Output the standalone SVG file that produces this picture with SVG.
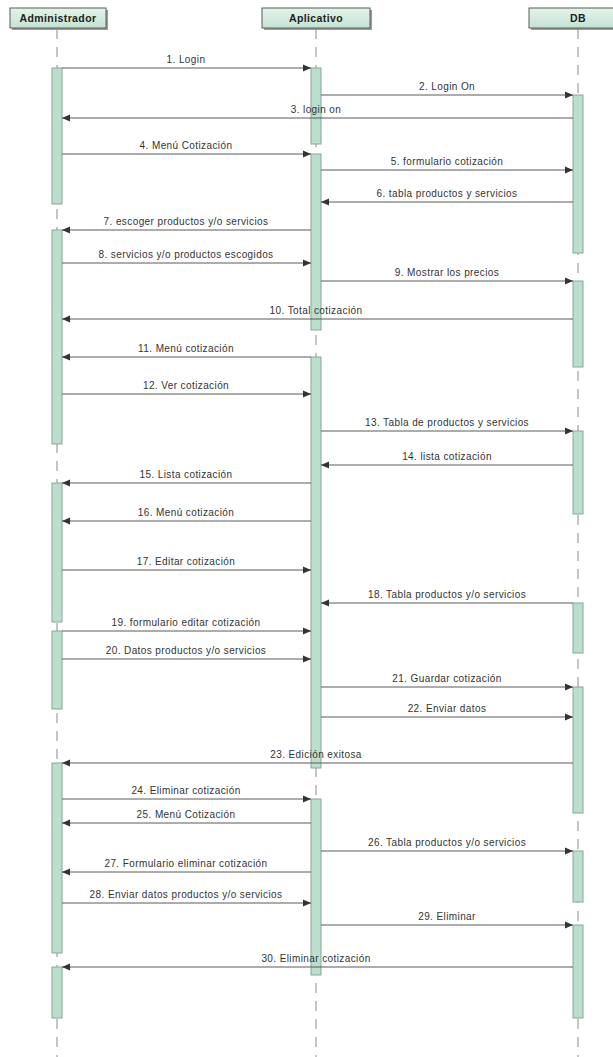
<svg xmlns="http://www.w3.org/2000/svg" width="613" height="1057" viewBox="0 0 613 1057">
<style>
.hdr{fill:url(#hg);stroke:#5a5a5a;stroke-width:1}
.shd{fill:#9a9a9a}
.ht{font-family:"Liberation Sans",Arial,sans-serif;font-size:10.5px;font-weight:bold;fill:#222;text-anchor:middle;letter-spacing:0.4px}
.ll{stroke:#8a8a8a;stroke-width:1;stroke-dasharray:10 8;fill:none}
.act{fill:#bcdecd;stroke:#88a898;stroke-width:1}
.msg{stroke:#5a5a5a;stroke-width:1;fill:none;marker-end:url(#ah)}
.lbl{font-family:"Liberation Sans",Arial,sans-serif;font-size:10px;fill:#333;text-anchor:middle;letter-spacing:0.4px}
</style>
<defs>
<linearGradient id="hg" x1="0" y1="0" x2="0" y2="1">
<stop offset="0" stop-color="#e4f3eb"/>
<stop offset="1" stop-color="#c4e3d3"/>
</linearGradient>
<marker id="ah" markerWidth="8" markerHeight="8" refX="8" refY="4" orient="auto" markerUnits="userSpaceOnUse">
<path d="M0,0.5 L8,4 L0,7.5 z" fill="#333"/>
</marker>
</defs>
<rect width="613" height="1057" fill="#ffffff"/>

<g id="administrador">
<line class="ll" x1="57" y1="29" x2="57" y2="1057"/>
<rect class="shd" x="12" y="10" width="96" height="20"/>
<rect class="hdr" x="10" y="8" width="96" height="20"/>
<text class="ht" x="58" y="22">Administrador</text>
<rect class="act" x="52" y="68" width="10" height="136"/>
<rect class="act" x="52" y="230" width="10" height="214"/>
<rect class="act" x="52" y="483" width="10" height="139"/>
<rect class="act" x="52" y="631" width="10" height="78"/>
<rect class="act" x="52" y="763" width="10" height="190"/>
<rect class="act" x="52" y="967" width="10" height="51"/>
</g>

<g id="aplicativo">
<line class="ll" x1="316" y1="29" x2="316" y2="1057"/>
<rect class="shd" x="264" y="10" width="108" height="20"/>
<rect class="hdr" x="262" y="8" width="108" height="20"/>
<text class="ht" x="316" y="22">Aplicativo</text>
<rect class="act" x="311" y="68" width="10" height="76"/>
<rect class="act" x="311" y="154" width="10" height="176"/>
<rect class="act" x="311" y="357" width="10" height="411"/>
<rect class="act" x="311" y="799" width="10" height="176"/>
</g>

<g id="db">
<line class="ll" x1="578" y1="29" x2="578" y2="1057"/>
<rect class="shd" x="531" y="10" width="96" height="20"/>
<rect class="hdr" x="529" y="8" width="98" height="20"/>
<text class="ht" x="578" y="22">DB</text>
<rect class="act" x="573" y="95" width="10" height="158"/>
<rect class="act" x="573" y="281" width="10" height="86"/>
<rect class="act" x="573" y="431" width="10" height="83"/>
<rect class="act" x="573" y="603" width="10" height="50"/>
<rect class="act" x="573" y="687" width="10" height="126"/>
<rect class="act" x="573" y="851" width="10" height="51"/>
<rect class="act" x="573" y="925" width="10" height="93"/>
</g>

<g id="connectors">
<line class="msg" x1="62" y1="68" x2="311" y2="68"/>
<line class="msg" x1="321" y1="95" x2="573" y2="95"/>
<line class="msg" x1="573" y1="118" x2="62" y2="118"/>
<line class="msg" x1="62" y1="154" x2="311" y2="154"/>
<line class="msg" x1="321" y1="170" x2="573" y2="170"/>
<line class="msg" x1="573" y1="202" x2="321" y2="202"/>
<line class="msg" x1="311" y1="230" x2="62" y2="230"/>
<line class="msg" x1="62" y1="263" x2="311" y2="263"/>
<line class="msg" x1="321" y1="281" x2="573" y2="281"/>
<line class="msg" x1="573" y1="319" x2="62" y2="319"/>
<line class="msg" x1="311" y1="357" x2="62" y2="357"/>
<line class="msg" x1="62" y1="394" x2="311" y2="394"/>
<line class="msg" x1="321" y1="431" x2="573" y2="431"/>
<line class="msg" x1="573" y1="465" x2="321" y2="465"/>
<line class="msg" x1="311" y1="483" x2="62" y2="483"/>
<line class="msg" x1="311" y1="521" x2="62" y2="521"/>
<line class="msg" x1="62" y1="570" x2="311" y2="570"/>
<line class="msg" x1="573" y1="603" x2="321" y2="603"/>
<line class="msg" x1="62" y1="631" x2="311" y2="631"/>
<line class="msg" x1="62" y1="659" x2="311" y2="659"/>
<line class="msg" x1="321" y1="687" x2="573" y2="687"/>
<line class="msg" x1="321" y1="717" x2="573" y2="717"/>
<line class="msg" x1="573" y1="763" x2="62" y2="763"/>
<line class="msg" x1="62" y1="799" x2="311" y2="799"/>
<line class="msg" x1="311" y1="823" x2="62" y2="823"/>
<line class="msg" x1="321" y1="851" x2="573" y2="851"/>
<line class="msg" x1="311" y1="872" x2="62" y2="872"/>
<line class="msg" x1="62" y1="903" x2="311" y2="903"/>
<line class="msg" x1="321" y1="925" x2="573" y2="925"/>
<line class="msg" x1="573" y1="967" x2="62" y2="967"/>

<text class="lbl" x="186" y="63">1. Login</text>
<text class="lbl" x="447" y="90">2. Login On</text>
<text class="lbl" x="316" y="113">3. login on</text>
<text class="lbl" x="186" y="149">4. Menú Cotización</text>
<text class="lbl" x="447" y="165">5. formulario cotización</text>
<text class="lbl" x="447" y="197">6. tabla productos y servicios</text>
<text class="lbl" x="186" y="225">7. escoger productos y/o servicios</text>
<text class="lbl" x="186" y="258">8. servicios y/o productos escogidos</text>
<text class="lbl" x="447" y="276">9. Mostrar los precios</text>
<text class="lbl" x="316" y="314">10. Total cotización</text>
<text class="lbl" x="186" y="352">11. Menú cotización</text>
<text class="lbl" x="186" y="389">12. Ver cotización</text>
<text class="lbl" x="447" y="426">13. Tabla de productos y servicios</text>
<text class="lbl" x="447" y="460">14. lista cotización</text>
<text class="lbl" x="186" y="478">15. Lista cotización</text>
<text class="lbl" x="186" y="516">16. Menú cotización</text>
<text class="lbl" x="186" y="565">17. Editar cotización</text>
<text class="lbl" x="447" y="598">18. Tabla productos y/o servicios</text>
<text class="lbl" x="186" y="626">19. formulario editar cotización</text>
<text class="lbl" x="186" y="654">20. Datos productos y/o servicios</text>
<text class="lbl" x="447" y="682">21. Guardar cotización</text>
<text class="lbl" x="447" y="712">22. Enviar datos</text>
<text class="lbl" x="316" y="758">23. Edición exitosa</text>
<text class="lbl" x="186" y="794">24. Eliminar cotización</text>
<text class="lbl" x="186" y="818">25. Menú Cotización</text>
<text class="lbl" x="447" y="846">26. Tabla productos y/o servicios</text>
<text class="lbl" x="186" y="867">27. Formulario eliminar cotización</text>
<text class="lbl" x="186" y="898">28. Enviar datos productos y/o servicios</text>
<text class="lbl" x="447" y="920">29. Eliminar</text>
<text class="lbl" x="316" y="962">30. Eliminar cotización</text>
</g>
</svg>
